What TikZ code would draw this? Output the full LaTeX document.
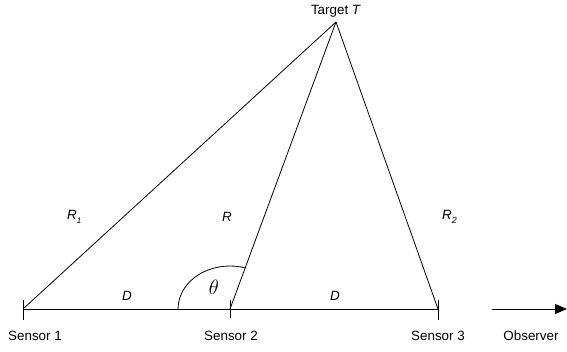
\documentclass[tikz,border=0pt]{standalone}
\usepackage{fontspec}
\setmainfont{Liberation Sans}
\usetikzlibrary{arrows.meta}
\begin{document}
\begin{tikzpicture}[x=1pt,y=-1pt,
  lbl/.style={inner sep=0pt,font=\fontsize{13.4}{15}\selectfont},
  ln/.style={line width=0.8pt},
  tick/.style={line width=0.8pt}]
\useasboundingbox (0,0) rectangle (567,352);
\coordinate (T) at (336,22);
\coordinate (S1) at (23,309);
\coordinate (S2) at (230,309);
\coordinate (S3) at (438,309);
\coordinate (O1) at (492,309);
\coordinate (O2) at (567,309);
% triangle lines
\draw[ln] (S1) -- (S3);
\draw[ln] (S1) -- (T);
\draw[ln] (S2) -- (T);
\draw[ln] (S3) -- (T);
% ticks
\draw[tick] ([yshift=-11pt]S1) -- ([yshift=9pt]S1);
\draw[tick] ([yshift=-9pt]S2) -- ([yshift=9pt]S2);
\draw[tick] ([yshift=-11pt]S3) -- ([yshift=9pt]S3);
% angle arc
\draw[ln] ([xshift=-52pt]S2) arc[start angle=180, end angle=72, x radius=52, y radius=-43];
% observer arrow
\draw[ln,-{Triangle[length=12pt,width=10pt]}] (O1) -- (O2);
% labels
\node[lbl] (tT) at (336,11.5) {Target \textit{T}};
\node[lbl] (l1) at (35,335.5) {Sensor 1};
\node[lbl] (l2) at (231,335.5) {Sensor 2};
\node[lbl] (l3) at (438,335.5) {Sensor 3};
\node[lbl] (lo) at (531,335.5) {Observer};
\node[lbl] (d1) at (127,296) {\textit{D}};
\node[lbl] (d2) at (335,296) {\textit{D}};
\node[lbl,anchor=west] (r1) at (67,217) {\textit{R}\raisebox{-3.5pt}{\fontsize{8}{9}\selectfont\textit{1}}};
\node[lbl] (r) at (227,217) {\textit{R}};
\node[lbl,anchor=west] (r2) at (442,217) {\textit{R}\raisebox{-3.5pt}{\fontsize{9}{9}\selectfont\textit{2}}};
\node[inner sep=0pt,font=\fontsize{21}{22}\selectfont] (th) at (214,287.5) {$\theta$};
\end{tikzpicture}
\end{document}
